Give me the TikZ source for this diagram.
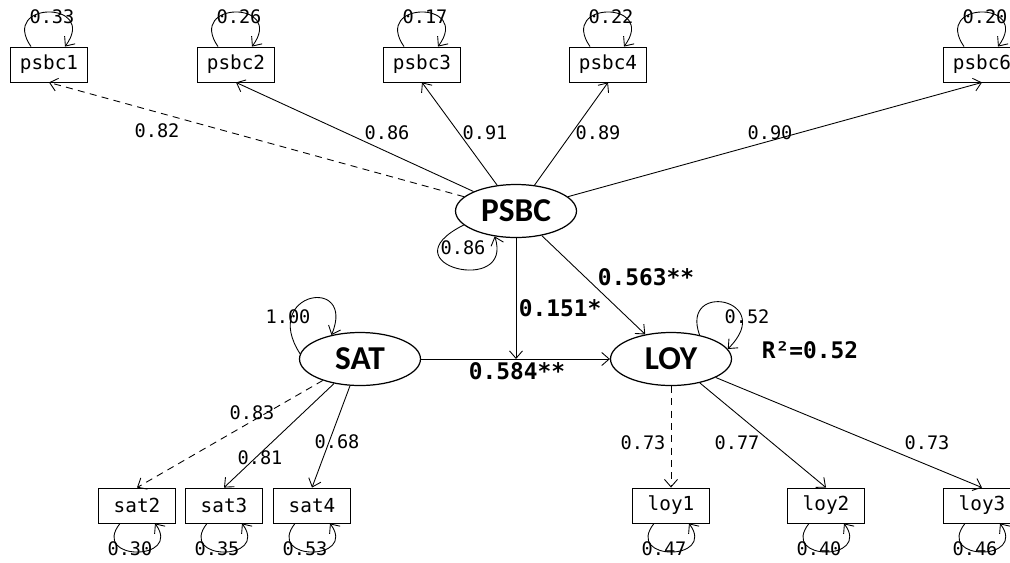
\documentclass[tikz,border=0pt]{standalone}
\usepackage{fontspec}
\setmonofont{DejaVu Sans Mono}
\newfontfamily\latfont{Carlito}
\usetikzlibrary{shapes.geometric,arrows.meta}

\begin{document}
\begin{tikzpicture}[x=0.02cm, y=-0.02cm, >={Straight Barb[length=1.5mm,width=2.6mm]},
    lat/.style={draw, ellipse, line width=0.7pt, minimum width=2.42cm, minimum height=1.06cm,
      inner sep=0pt, font=\latfont\bfseries\fontsize{19}{22}\selectfont},
    obs/.style={draw, line width=0.5pt, minimum width=1.54cm, minimum height=0.7cm,
      inner sep=0pt, font=\ttfamily\fontsize{11}{13}\selectfont},
    num/.style={font=\ttfamily\fontsize{10.6}{12}\selectfont, inner sep=1pt},
    coef/.style={font=\ttfamily\bfseries\fontsize{13}{15}\selectfont, inner sep=1pt},
    ld/.style={->, line width=0.5pt},
    fix/.style={dash pattern=on 4pt off 3pt}]
    \useasboundingbox (0,0) rectangle (1010,562);
    % 潜在変数
    \node[lat] (PSBC) at (516,211) {PSBC};
    \node[lat] (SAT) at (360,359) {SAT};
    \node[lat] (LOY) at (671,359) {LOY};
    % 観測変数（上）と誤差分散
    \foreach \nm/\x/\v in {psbc1/49/0.33, psbc2/236/0.26, psbc3/422/0.17, psbc4/608/0.22, psbc6/982/0.20} {
      \node[obs] (\nm) at (\x,64.5) {\nm};
      \node[num] (e\nm) at ([shift={(3,-30)}]\nm.north) {\v};
      \draw[ld] ([shift={(-18,0)}]\nm.north) .. controls +(-32,-46) and +(34,-46) .. ([shift={(16,0)}]\nm.north);
    }
    % 観測変数（下）と誤差分散
    \foreach \nm/\x/\v in {sat2/137/0.30, sat3/224/0.35, sat4/312/0.53, loy1/671/0.47, loy2/826/0.40, loy3/982/0.46} {
      \node[obs] (\nm) at (\x,505.5) {\nm};
      \node[num] (e\nm) at ([shift={(-7,25)}]\nm.south) {\v};
      \draw[ld] ([shift={(-17,0)}]\nm.south) .. controls +(-30,38) and +(28,38) .. ([shift={(18,0)}]\nm.south);
    }
    % 因子負荷（PSBC）
    \draw[ld, fix] (PSBC) -- (psbc1.south);
    \draw[ld] (PSBC) -- (psbc2.south);
    \draw[ld] (PSBC) -- (psbc3.south);
    \draw[ld] (PSBC) -- (psbc4.south);
    \draw[ld] (PSBC) -- (psbc6.south);
    \node[num] (l1) at (157,131) {0.82};
    \node[num] (l2) at (387,133) {0.86};
    \node[num] (l3) at (485,133) {0.91};
    \node[num] (l4) at (598,133) {0.89};
    \node[num] (l6) at (770,133) {0.90};
    % 因子負荷（SAT）
    \draw[ld, fix] (SAT) -- (sat2.north);
    \draw[ld] (SAT) -- (sat3.north);
    \draw[ld] (SAT) -- (sat4.north);
    \node[num] (s2) at (252,413) {0.83};
    \node[num] (s3) at (260,458) {0.81};
    \node[num] (s4) at (337,442) {0.68};
    % 因子負荷（LOY）
    \draw[ld, fix] (LOY) -- (loy1);
    \draw[ld] (LOY) -- (loy2.north);
    \draw[ld] (LOY) -- (loy3.north);
    \node[num] (y1) at (643,443) {0.73};
    \node[num] (y2) at (737,443) {0.77};
    \node[num] (y3) at (927,443) {0.73};
    % 構造パス
    \coordinate (hit) at (PSBC |- SAT);
    \draw[ld] (SAT) -- (LOY);
    \draw[ld] (PSBC) -- (hit);
    \draw[ld] (PSBC) -- (LOY);
    \node[coef] (c1) at (517,371) {0.584**};
    \node[coef] (c2) at (560,308) {0.151*};
    \node[coef] (c3) at (646,277) {0.563**};
    % 潜在変数の分散
    \draw[ld] (PSBC.195) .. controls +(-80,40) and +(20,60) .. (PSBC.230);
    \node[num] (v1) at (463,248) {0.86};
    \draw[ld] (SAT.175) .. controls +(-40,-62) and +(25,-60) .. (SAT.140);
    \node[num] (v2) at (288,317) {1.00};
    \draw[ld] (LOY.40) .. controls +(-20,-55) and +(50,-50) .. (LOY.10);
    \node[num] (v3) at (747,317) {0.52};
    \node[coef] (r2) at (810,350) {R²=0.52};
  \end{tikzpicture}
\end{document}
